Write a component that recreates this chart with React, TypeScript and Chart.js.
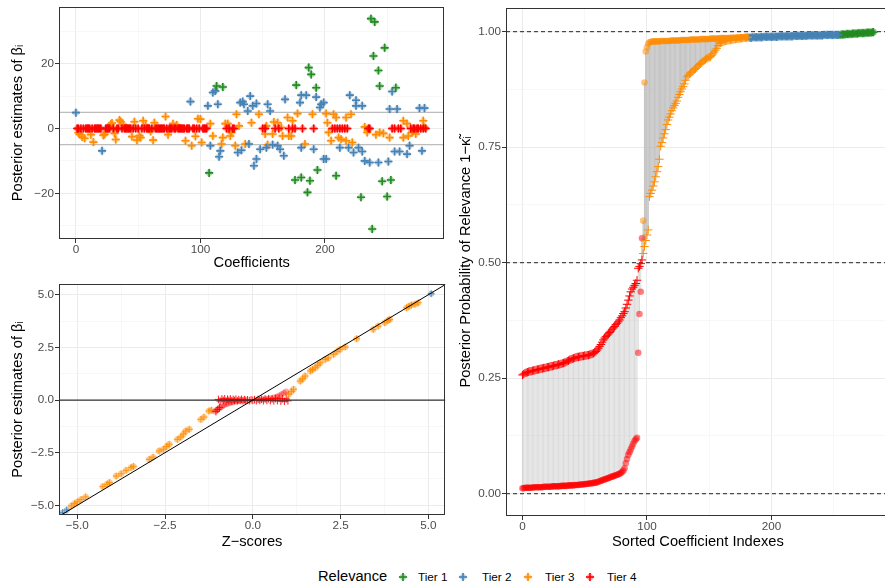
import React, { useEffect, useRef } from 'react';
import { Chart, registerables } from 'chart.js';
Chart.register(...registerables);

type Pt = [number, number];
const FONT = '"Liberation Sans", Arial, Helvetica, sans-serif';
const C1 = [34, 139, 34];
const C2 = [70, 130, 180];
const C3 = [255, 140, 0];
const C4 = [255, 0, 0];
const rgba = (c: number[], a: number) => `rgba(${c[0]},${c[1]},${c[2]},${a})`;

// ---------- Panel 1: coefficients vs posterior estimates ----------
const TOP_T1: Pt[] = [[107,-13.7],[113,13.1],[118,12.8],[176,-15.9],[177,13.4],[181,-15.1],[186,-19.7],[187,18.8],[188,-16.1],[189,16.7],[193,12.6],[194,-12.8],[209,-14.6],[229,-21.2],[237,33.9],[238,-31.0],[239,22.4],[240,32.9],[243,17.9],[244,13.1],[246,-16.3],[248,24.9],[250,-21.0],[253,-15.9],[257,12.6]];
const TOP_T2: Pt[] = [[0,4.9],[21,-6.9],[92,8.3],[106,7.0],[108,-5.3],[110,11.1],[112,11.6],[114,7.5],[115,-8.7],[116,-6.9],[130,-7.4],[132,8.0],[133,-6.7],[134,8.3],[135,7.5],[138,5.4],[139,-4.8],[140,10.0],[142,7.0],[143,-11.5],[145,7.7],[145,-9.4],[148,-6.4],[153,-5.9],[154,7.5],[156,5.4],[158,-5.0],[162,-5.3],[164,-6.4],[167,-8.4],[168,9.0],[180,8.0],[181,-5.9],[181,10.3],[185,10.3],[191,-6.4],[193,9.7],[196,6.5],[197,7.5],[199,8.0],[199,-9.4],[201,-9.4],[212,-5.9],[219,-5.9],[220,10.3],[223,-7.4],[225,8.7],[225,7.0],[227,-5.9],[230,7.0],[230,-7.1],[232,-10.0],[236,-10.5],[243,-10.5],[251,-10.2],[252,6.0],[254,11.4],[256,-7.1],[258,6.0],[260,-7.1],[266,-7.9],[268,-5.3],[276,6.3],[278,-6.9],[280,6.3]];
const TOP_T3: Pt[] = [[2,-1.3],[3,-1.8],[5,-2.6],[7,-3.0],[12,-1.9],[14,-4.2],[22,-2.1],[23,-1.8],[28,1.3],[29,1.7],[31,-1.5],[32,-3.4],[35,2.6],[36,2.1],[38,1.2],[45,-2.5],[47,2.1],[49,-3.6],[51,-2.2],[52,-2.8],[54,2.4],[56,1.0],[60,-0.9],[62,-3.6],[63,1.8],[72,3.7],[74,-1.9],[78,1.5],[81,1.1],[88,-3.8],[93,-5.3],[96,-2.4],[98,3.0],[100,2.9],[101,-4.3],[108,1.5],[110,-2.3],[117,-4.8],[118,-2.8],[120,1.5],[122,1.5],[124,-2.3],[125,-1.2],[128,-5.3],[129,4.4],[131,0.8],[136,-4.8],[141,1.8],[147,4.4],[152,-1.7],[153,0.8],[154,-5.0],[158,-1.7],[159,2.0],[162,1.8],[165,0.3],[166,-2.3],[170,3.4],[171,-2.3],[173,-2.3],[174,2.4],[178,4.6],[184,-4.8],[190,4.4],[201,4.6],[202,1.8],[203,-1.2],[205,-3.8],[207,4.4],[209,3.4],[211,-2.8],[213,-3.3],[217,-3.8],[217,3.4],[221,4.4],[222,-4.3],[232,0.5],[234,-1.2],[241,-1.9],[244,-1.2],[247,-1.5],[252,-2.8],[263,2.4],[263,-2.8],[266,1.5],[267,-2.3],[270,-1.2],[273,-1.7],[279,2.4],[280,0.3]];
const TOP_T4: Pt[] = [[1,0],[2,0],[4,0],[6,0],[8,0],[9,0],[10,0],[11,0],[13,0],[15,0],[16,0],[17,0],[18,0],[19,0],[20,0],[24,0],[25,0],[26,0],[27,0],[30,0],[33,0],[34,0],[37,0],[39,0],[40,0],[41,0],[42,0],[43,0],[44,0],[46,0],[48,0],[50,0],[53,0],[55,0],[57,0],[58,0],[59,0],[61,0],[64,0],[65,0],[66,0],[67,0],[68,0],[69,0],[70,0],[71,0],[73,0],[75,0],[76,0],[77,0],[79,0],[80,0],[82,0],[83,0],[84,0],[85,0],[86,0],[87,0],[89,0],[90,0],[91,0],[94,0],[95,0],[97,0],[99,0],[102,0],[103,0],[104,0],[105,0],[121,0],[123,0],[126,0],[127,0],[150,0],[152,0],[160,0],[163,0],[171,0],[174,0],[176,0],[182,0],[191,0],[206,0],[208,0],[210,0],[212,0],[214,0],[216,0],[218,0],[235,0],[236,0],[254,0],[256,0],[259,0],[261,0],[269,0],[271,0],[272,0],[274,0],[275,0],[277,0],[279,0],[281,0]];
const TOP_REF = [5, -5];
const TOP_X_TICKS = [0, 50, 100, 150, 200, 250];
const TOP_X_LABELS = [0, 100, 200];
const TOP_Y_TICKS = [-30, -20, -10, 0, 10, 20, 30];
const TOP_Y_LABELS = [-20, 0, 20];

// ---------- Panel 2: z-scores vs posterior estimates ----------
const BOT_T2: Pt[] = [[-5.42,-5.35],[-5.3,-5.22],[5.08,5.05]];
const BOT_T3: Pt[] = [[-5.17,-5.03],[-5.08,-4.92],[-5.0,-4.84],[-4.89,-4.72],[-4.76,-4.6],[-4.27,-4.11],[-4.15,-4.0],[-4.08,-3.92],[-3.89,-3.61],[-3.75,-3.5],[-3.61,-3.34],[-3.47,-3.21],[-3.4,-3.15],[-2.95,-2.82],[-2.84,-2.71],[-2.67,-2.42],[-2.55,-2.34],[-2.45,-2.2],[-2.38,-2.1],[-2.15,-1.87],[-2.05,-1.76],[-1.98,-1.62],[-1.91,-1.47],[-1.81,-1.39],[-1.48,-0.92],[-1.39,-0.81],[-1.25,-0.52],[-1.18,-0.48],[1.02,0.27],[1.1,0.4],[1.16,0.51],[1.35,0.9],[1.42,1.0],[1.49,1.14],[1.64,1.38],[1.7,1.45],[1.78,1.53],[1.85,1.65],[1.92,1.77],[2.06,1.93],[2.15,2.0],[2.3,2.17],[2.4,2.3],[2.49,2.41],[2.63,2.52],[2.96,2.91],[3.43,3.35],[3.57,3.51],[3.76,3.67],[3.85,3.78],[3.9,3.83],[4.38,4.38],[4.45,4.45],[4.52,4.51],[4.62,4.55],[4.71,4.62]];
const BOT_T4_CROSS: Pt[] = [[-1.05,-0.55],[-1.0,-0.45],[-0.95,-0.36],[-0.98,0.03],[-0.93,-0.05],[-0.88,0.05],[-0.84,-0.02],[-0.8,0.06],[-0.76,-0.05],[-0.72,0.04],[-0.68,-0.02],[-0.64,0.05],[-0.6,-0.04],[-0.56,0.03],[-0.52,-0.02],[-0.48,0.04],[-0.44,-0.04],[-0.4,0.02],[-0.36,-0.02],[-0.32,0.03],[-0.28,-0.03],[-0.24,0.02],[-0.2,-0.02],[-0.15,0.01],[-0.1,-0.03],[-0.05,0.01],[0.0,-0.02],[0.05,0.02],[0.1,-0.03],[0.15,0.03],[0.2,-0.02],[0.25,0.04],[0.3,-0.03],[0.35,0.05],[0.4,-0.02],[0.45,0.06],[0.5,-0.03],[0.55,0.05],[0.6,-0.04],[0.65,0.07],[0.7,-0.03],[0.75,0.08],[0.8,-0.05],[0.85,0.06],[0.9,-0.06],[0.95,0.05],[1.0,-0.04]];
const BOT_T4_CIRCLE: Pt[] = [[-1.08,-0.55],[-1.02,-0.47],[-0.97,-0.4],[-0.92,-0.35],[-0.87,-0.3],[-0.82,-0.25],[-0.76,-0.2],[-0.7,-0.16],[-0.63,-0.13],[-0.56,-0.1],[-0.48,-0.07],[-0.4,-0.05],[-0.3,-0.03],[-0.2,-0.02],[0.2,0.02],[0.3,0.04],[0.4,0.06],[0.5,0.09],[0.6,0.12],[0.68,0.16],[0.75,0.21],[0.82,0.27],[0.88,0.33],[0.94,0.4]];
const BOT_X_TICKS = [-5, -3.75, -2.5, -1.25, 0, 1.25, 2.5, 3.75, 5];
const BOT_X_LABELS = [-5, -2.5, 0, 2.5, 5];
const BOT_Y_TICKS = [-5, -3.75, -2.5, -1.25, 0, 1.25, 2.5, 3.75, 5];
const BOT_Y_LABELS = [-5, -2.5, 0, 2.5, 5];

// ---------- Panel 3: sorted posterior probability of relevance ----------
const R_T4_CIRCLE = [0.012,0.012,0.013,0.013,0.013,0.013,0.013,0.013,0.013,0.014,0.014,0.014,0.014,0.014,0.014,0.014,0.014,0.015,0.015,0.015,0.015,0.015,0.015,0.015,0.016,0.016,0.016,0.016,0.016,0.016,0.016,0.017,0.017,0.017,0.017,0.017,0.017,0.018,0.018,0.018,0.018,0.018,0.019,0.019,0.019,0.019,0.020,0.020,0.020,0.020,0.021,0.021,0.021,0.022,0.022,0.022,0.023,0.023,0.024,0.024,0.025,0.026,0.027,0.028,0.029,0.030,0.031,0.032,0.033,0.034,0.035,0.036,0.037,0.038,0.039,0.040,0.041,0.042,0.043,0.045,0.047,0.050,0.055,0.066,0.075,0.084,0.090,0.096,0.102,0.108,0.114,0.118,0.121,0.305,0.389,0.437,0.553];
const R_T4_CROSS = [0.257,0.259,0.261,0.262,0.263,0.264,0.265,0.265,0.266,0.267,0.267,0.268,0.269,0.269,0.270,0.271,0.271,0.272,0.272,0.273,0.274,0.274,0.275,0.276,0.276,0.277,0.278,0.278,0.279,0.280,0.280,0.281,0.282,0.283,0.284,0.285,0.287,0.288,0.290,0.291,0.292,0.293,0.294,0.295,0.296,0.296,0.297,0.297,0.298,0.298,0.299,0.299,0.300,0.300,0.301,0.302,0.303,0.304,0.306,0.308,0.311,0.315,0.319,0.323,0.328,0.333,0.337,0.340,0.343,0.346,0.349,0.352,0.356,0.359,0.362,0.366,0.369,0.372,0.376,0.381,0.385,0.390,0.394,0.402,0.410,0.419,0.428,0.437,0.443,0.447,0.451,0.455,0.462,0.488,0.492,0.498,0.506];
const R_T3_CIRCLE = [0.591,0.890,0.957,0.966,0.974,0.977,0.978,0.978,0.979,0.979,0.979,0.979,0.979,0.979,0.980,0.980,0.980,0.980,0.980,0.980,0.980,0.980,0.981,0.981,0.981,0.981,0.981,0.981,0.981,0.981,0.982,0.982,0.982,0.982,0.982,0.982,0.982,0.982,0.983,0.983,0.983,0.983,0.983,0.983,0.983,0.983,0.984,0.984,0.984,0.984,0.984,0.984,0.984,0.984,0.985,0.985,0.985,0.985,0.985,0.985,0.985,0.985,0.986,0.986,0.986,0.986,0.986,0.986,0.986,0.986,0.987,0.987,0.987,0.987,0.987,0.987,0.987,0.987,0.988,0.988,0.988,0.988,0.988,0.988,0.988];
const R_T3_CROSS = [0.520,0.535,0.548,0.560,0.571,0.643,0.650,0.657,0.666,0.675,0.686,0.697,0.708,0.724,0.752,0.760,0.770,0.779,0.788,0.799,0.809,0.815,0.822,0.829,0.835,0.840,0.845,0.850,0.858,0.864,0.870,0.876,0.881,0.887,0.895,0.902,0.905,0.908,0.911,0.913,0.915,0.918,0.920,0.923,0.926,0.929,0.931,0.933,0.936,0.938,0.940,0.942,0.943,0.945,0.946,0.949,0.952,0.956,0.960,0.964,0.970,0.975,0.976,0.977,0.978,0.979,0.980,0.981,0.981,0.982,0.982,0.983,0.983,0.984,0.984,0.985,0.985,0.985,0.986,0.986,0.986,0.987,0.987,0.987,0.988];
const R_T2_CIRCLE = [0.988,0.988,0.988,0.988,0.988,0.988,0.988,0.988,0.988,0.988,0.989,0.989,0.989,0.989,0.989,0.989,0.989,0.989,0.989,0.989,0.989,0.989,0.990,0.990,0.990,0.990,0.990,0.990,0.990,0.990,0.990,0.990,0.990,0.990,0.991,0.991,0.991,0.991,0.991,0.991,0.991,0.991,0.991,0.991,0.991,0.991,0.992,0.992,0.992,0.992,0.992,0.992,0.992,0.992,0.992,0.992,0.992,0.992,0.992,0.993,0.993,0.993,0.993,0.993,0.993,0.993,0.993,0.993,0.993,0.993,0.993,0.993,0.993];
const R_T2_CROSS = [0.987,0.987,0.987,0.988,0.988,0.988,0.988,0.988,0.988,0.988,0.988,0.988,0.989,0.989,0.989,0.989,0.989,0.989,0.989,0.989,0.989,0.989,0.989,0.989,0.990,0.990,0.990,0.990,0.990,0.990,0.990,0.990,0.990,0.990,0.990,0.990,0.991,0.991,0.991,0.991,0.991,0.991,0.991,0.991,0.991,0.991,0.991,0.992,0.992,0.992,0.992,0.992,0.992,0.992,0.992,0.992,0.992,0.992,0.992,0.992,0.993,0.993,0.993,0.993,0.993,0.993,0.993,0.993,0.993,0.993,0.993,0.993,0.993];
const R_T1_CIRCLE = [0.993,0.993,0.994,0.994,0.994,0.994,0.995,0.995,0.995,0.995,0.995,0.996,0.996,0.996,0.996,0.996,0.997,0.997,0.997,0.997,0.997,0.997,0.998,0.998,0.998,0.998,0.998,0.999];
const R_T1_CROSS = [0.993,0.994,0.994,0.994,0.994,0.995,0.995,0.995,0.995,0.995,0.996,0.996,0.996,0.996,0.996,0.997,0.997,0.997,0.997,0.997,0.997,0.998,0.998,0.998,0.998,0.998,0.999,0.999];
const R_REF = [0, 0.5, 1];
const R_X_TICKS = [0, 50, 100, 150, 200, 250];
const R_X_LABELS = [0, 100, 200];
const R_Y_TICKS = [0, 0.125, 0.25, 0.375, 0.5, 0.625, 0.75, 0.875, 1];
const R_Y_LABELS = [0, 0.25, 0.5, 0.75, 1];

const LEGEND = [
  { label: 'Tier 1', c: C1 },
  { label: 'Tier 2', c: C2 },
  { label: 'Tier 3', c: C3 },
  { label: 'Tier 4', c: C4 },
];

const minus = (s: string) => s.replace('-', '\u2212');
const fmtInt = (v: number) => minus(String(v));
const fmt1 = (v: number) => minus(v.toFixed(1));
const fmt2 = (v: number) => minus(v.toFixed(2));
const xy = (a: Pt[]) => a.map(([x, y]) => ({ x, y }));

function axis(o: {
  min: number; max: number; ticks: number[]; labels: number[]; fmt: (v: number) => string;
  title: string; size: number; horizontal: boolean; titlePad: any; tickPad: number;
}) {
  const isMajor = (v: any) => typeof v === 'number' && o.labels.some((l) => Math.abs(l - v) < 1e-9);
  return {
    type: 'linear',
    min: o.min,
    max: o.max,
    afterBuildTicks: (s: any) => { s.ticks = o.ticks.map((v) => ({ value: v })); },
    afterFit: (s: any) => {
      if (o.horizontal) s.height = o.size; else s.width = o.size;
      s.paddingTop = 0; s.paddingBottom = 0; s.paddingLeft = 0; s.paddingRight = 0;
    },
    ticks: {
      autoSkip: false, maxRotation: 0, minRotation: 0, padding: o.tickPad,
      color: '#4d4d4d', font: { family: FONT, size: 11.7 },
      callback: (v: number) => (isMajor(v) ? o.fmt(v) : ''),
    },
    grid: {
      drawTicks: true, tickLength: 4, tickWidth: 1,
      color: (c: any) => (isMajor(c.tick?.value) ? '#ebebeb' : '#f4f4f4'),
      lineWidth: (c: any) => (isMajor(c.tick?.value) ? 1 : 0.7),
      tickColor: (c: any) => (isMajor(c.tick?.value) ? '#333333' : 'rgba(0,0,0,0)'),
    },
    border: { display: false },
    title: { display: true, text: o.title, color: '#000000', font: { family: FONT, size: 14.67 }, padding: o.titlePad },
  };
}

const framePlugin = {
  id: 'frame',
  afterDraw(chart: any) {
    const { ctx, chartArea: a } = chart;
    ctx.save();
    ctx.strokeStyle = '#333333';
    ctx.lineWidth = 1;
    ctx.strokeRect(Math.round(a.left) + 0.5, Math.round(a.top) + 0.5, Math.round(a.right - a.left) - 1, Math.round(a.bottom - a.top) - 1);
    ctx.restore();
  },
};

function pts(data: any[], style: string, radius: number, fill: string, stroke: string, bw: number, order: number) {
  return {
    data, order, showLine: false,
    pointStyle: style, pointRadius: radius, pointHoverRadius: radius,
    pointBackgroundColor: fill, pointBorderColor: stroke, pointBorderWidth: bw,
  };
}
function line(data: any[], color: string, width: number, order: number, dash: number[] = []) {
  return {
    data, order, showLine: true, pointRadius: 0, pointHoverRadius: 0,
    borderColor: color, borderWidth: width, borderDash: dash, fill: false, spanGaps: false,
  };
}

function baseOptions(scales: any, padding: any) {
  return {
    responsive: false, animation: false, devicePixelRatio: 1, events: [],
    layout: { padding },
    plugins: { legend: { display: false }, tooltip: { enabled: false } },
    scales,
  };
}

function makeTop() {
  const xMin = -13.6, xMax = 296;
  const datasets: any[] = [];
  const tiers: [Pt[], number[]][] = [[TOP_T4, C4], [TOP_T1, C1], [TOP_T2, C2], [TOP_T3, C3]];
  tiers.forEach(([d, c], k) => {
    datasets.push(pts(xy(d), 'cross', 4, rgba(c, 1), rgba(c, 1), 1.6, k * 2));
    datasets.push(pts(xy(d), 'rectRot', 4.6, rgba(c, 0.35), 'rgba(0,0,0,0)', 0, k * 2 + 1));
  });
  TOP_REF.forEach((v) => datasets.push(line([{ x: xMin, y: v }, { x: xMax, y: v }], '#bdbdbd', 1.2, 20)));
  return {
    type: 'scatter',
    data: { datasets },
    options: baseOptions({
      x: axis({ min: xMin, max: xMax, ticks: TOP_X_TICKS, labels: TOP_X_LABELS, fmt: fmtInt, title: 'Coefficients', size: 36, horizontal: true, titlePad: { top: 0, bottom: 3 }, tickPad: 0 }),
      y: axis({ min: -34.1, max: 37.5, ticks: TOP_Y_TICKS, labels: TOP_Y_LABELS, fmt: fmtInt, title: 'Posterior estimates of \u03B2\u1D62', size: 59, horizontal: false, titlePad: { top: 9.5, bottom: 0 }, tickPad: 1 }),
    }, { left: 0, right: 3, top: 7, bottom: 0 }),
    plugins: [framePlugin],
  };
}

function makeBottom() {
  const datasets: any[] = [];
  datasets.push(line([{ x: -5.6, y: -5.6 }, { x: 5.6, y: 5.6 }], '#000000', 1, 0));
  datasets.push(line([{ x: -5.6, y: 0 }, { x: 5.6, y: 0 }], '#333333', 1.2, 1));
  datasets.push(pts(xy(BOT_T4_CROSS), 'cross', 3.8, rgba(C4, 0.9), rgba(C4, 0.9), 1, 2));
  datasets.push(pts(xy(BOT_T4_CIRCLE), 'circle', 3, rgba(C4, 0.35), 'rgba(0,0,0,0)', 0, 3));
  datasets.push(pts(xy(BOT_T3), 'cross', 3.5, rgba(C3, 0.8), rgba(C3, 0.8), 1, 4));
  datasets.push(pts(xy(BOT_T3), 'circle', 3.2, rgba(C3, 0.45), 'rgba(0,0,0,0)', 0, 5));
  datasets.push(pts(xy(BOT_T2), 'cross', 3.5, rgba(C2, 0.9), rgba(C2, 0.9), 1, 6));
  datasets.push(pts(xy(BOT_T2), 'circle', 3, rgba(C2, 0.45), 'rgba(0,0,0,0)', 0, 7));
  return {
    type: 'scatter',
    data: { datasets },
    options: baseOptions({
      x: axis({ min: -5.52, max: 5.48, ticks: BOT_X_TICKS, labels: BOT_X_LABELS, fmt: fmt1, title: 'Z\u2212scores', size: 40, horizontal: true, titlePad: { top: 0, bottom: 4.5 }, tickPad: 0 }),
      y: axis({ min: -5.46, max: 5.51, ticks: BOT_Y_TICKS, labels: BOT_Y_LABELS, fmt: fmt1, title: 'Posterior estimates of \u03B2\u1D62', size: 59, horizontal: false, titlePad: { top: 9.5, bottom: 0 }, tickPad: 1 }),
    }, { left: 0, right: 3, top: 9, bottom: 0 }),
    plugins: [framePlugin],
  };
}

function makeRight() {
  const xMin = -13.2, xMax = 295;
  const tiers = [
    { c: C4, circle: R_T4_CIRCLE, cross: R_T4_CROSS },
    { c: C3, circle: R_T3_CIRCLE, cross: R_T3_CROSS },
    { c: C2, circle: R_T2_CIRCLE, cross: R_T2_CROSS },
    { c: C1, circle: R_T1_CIRCLE, cross: R_T1_CROSS },
  ];
  const datasets: any[] = [];
  const segs: any[] = [];
  let start = 0;
  tiers.forEach((t, k) => {
    const circ = t.circle.map((v, i) => ({ x: start + i, y: v }));
    const crs = t.cross.map((v, i) => ({ x: start + i, y: v }));
    t.circle.forEach((v, i) => {
      segs.push({ x: start + i, y: v }, { x: start + i, y: t.cross[i] }, { x: start + i, y: null });
    });
    datasets.push(pts(crs, 'cross', 4.2, rgba(t.c, 1), rgba(t.c, 1), 1, k));
    datasets.push(pts(circ, 'circle', 3.3, rgba(t.c, 0.5), 'rgba(0,0,0,0)', 0, 4 + k));
    start += t.circle.length;
  });
  datasets.push(line(segs, 'rgba(190,190,190,0.55)', 1, 9));
  R_REF.forEach((v) => datasets.push(line([{ x: xMin, y: v }, { x: xMax, y: v }], '#222222', 1, 8, [4, 3])));
  return {
    type: 'scatter',
    data: { datasets },
    options: baseOptions({
      x: axis({ min: xMin, max: xMax, ticks: R_X_TICKS, labels: R_X_LABELS, fmt: fmtInt, title: 'Sorted Coefficient Indexes', size: 39, horizontal: true, titlePad: { top: 0, bottom: 4.5 }, tickPad: 0 }),
      y: axis({ min: -0.0482, max: 1.0513, ticks: R_Y_TICKS, labels: R_Y_LABELS, fmt: fmt2, title: 'Posterior Probability of Relevance 1\u2212\u03BA\u0303\u1D62', size: 56, horizontal: false, titlePad: { top: 7, bottom: 0 }, tickPad: 1 }),
    }, { left: 0, right: 0, top: 8, bottom: 0 }),
    plugins: [framePlugin],
  };
}

function ChartBox({ left, top, width, height, make }: { left: number; top: number; width: number; height: number; make: () => any }) {
  const ref = useRef<HTMLCanvasElement>(null);
  useEffect(() => {
    const chart = new Chart(ref.current as HTMLCanvasElement, make());
    return () => chart.destroy();
  }, []);
  return <canvas ref={ref} width={width} height={height} style={{ position: 'absolute', left, top, width, height }} />;
}

function LegendMarker({ c }: { c: number[] }) {
  return (
    <svg width={12} height={12} style={{ display: 'block' }}>
      <polygon points="6,1.4 10.6,6 6,10.6 1.4,6" fill={rgba(c, 0.35)} />
      <line x1={2} y1={6} x2={10} y2={6} stroke={rgba(c, 1)} strokeWidth={1.6} />
      <line x1={6} y1={2} x2={6} y2={10} stroke={rgba(c, 1)} strokeWidth={1.6} />
    </svg>
  );
}

export default function App() {
  const markerX = [397, 457, 522, 584];
  const labelX = [418, 482, 545, 607];
  return (
    <div style={{ position: 'fixed', left: 0, top: 0, width: 885, height: 582, overflow: 'hidden', background: '#ffffff', fontFamily: FONT }}>
      <ChartBox left={0} top={0} width={450} height={275} make={makeTop} />
      <ChartBox left={0} top={275} width={450} height={280} make={makeBottom} />
      <ChartBox left={450} top={0} width={445} height={555} make={makeRight} />
      <div style={{ position: 'absolute', left: 318, top: 568, fontSize: 14.67, lineHeight: '17px', color: '#000', whiteSpace: 'nowrap' }}>Relevance</div>
      {LEGEND.map((l, i) => (
        <React.Fragment key={l.label}>
          <div style={{ position: 'absolute', left: markerX[i], top: 571 }}><LegendMarker c={l.c} /></div>
          <div style={{ position: 'absolute', left: labelX[i], top: 570, fontSize: 11.7, lineHeight: '14px', color: '#000', whiteSpace: 'nowrap' }}>{l.label}</div>
        </React.Fragment>
      ))}
    </div>
  );
}
